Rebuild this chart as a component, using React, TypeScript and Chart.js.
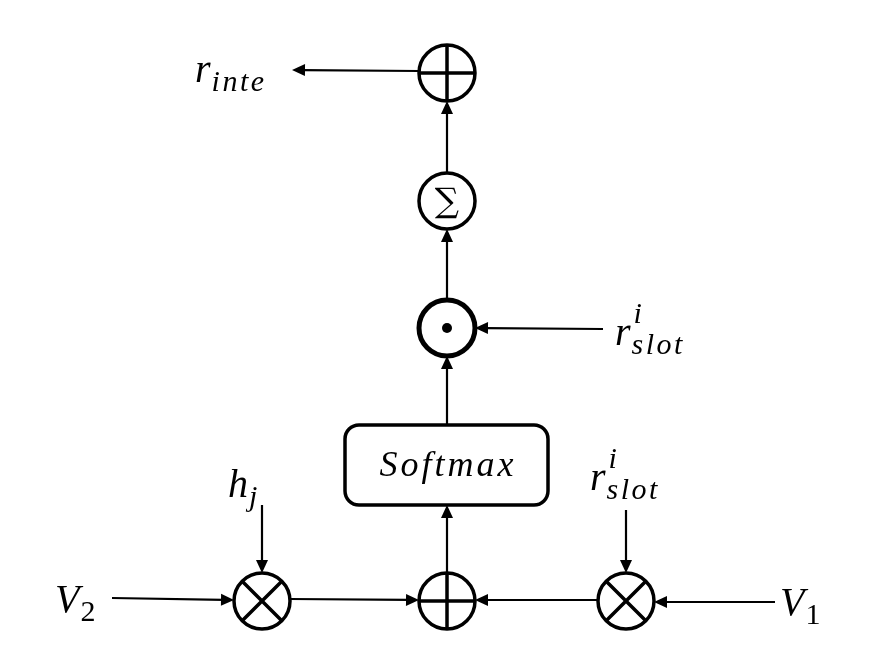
import React, { useEffect, useRef } from "react";
import { Chart, registerables } from "chart.js";
Chart.register(...registerables);

// Diagram nodes (in a 882 x 668 coordinate space)
const nodeKinds = ["oplus", "sum", "odot", "oplus", "otimes", "otimes"];
const nodeX = [447, 447, 447, 447, 262, 626];
const nodeY = [73, 201, 328, 601, 601, 601];
const nodeR = 28;

// Softmax box
const boxX = [345, 548];
const boxY = [425, 505];
const boxLabel = "Softmax";

// Arrows: from -> to
const arrowX1 = [419, 447, 447, 447, 447, 603, 262, 626, 112, 290, 598, 775];
const arrowY1 = [71, 173, 300, 425, 573, 329, 505, 510, 598, 599, 600, 602];
const arrowX2 = [292, 447, 447, 447, 447, 475, 262, 626, 234, 419, 475, 654];
const arrowY2 = [70, 101, 229, 356, 505, 328, 573, 573, 600, 600, 600, 602];

// Labels: base, subscript, superscript
const labelX = [195, 615, 228, 590, 55, 780];
const labelY = [82, 345, 497, 490, 612, 615];
const labelBase = ["r", "r", "h", "r", "V", "V"];
const labelSub = ["inte", "slot", "j", "slot", "2", "1"];
const labelSup = ["", "i", "", "i", "", ""];

export default function App() {
  const ref = useRef<HTMLCanvasElement>(null);
  useEffect(() => {
    if (!ref.current) return;
    const plugin = {
      id: "diagram",
      afterDraw(chart: any) {
        const ctx = chart.ctx;
        const sx = chart.scales.x, sy = chart.scales.y;
        const px = (v: number) => sx.getPixelForValue(v);
        const py = (v: number) => sy.getPixelForValue(v);
        ctx.save();
        ctx.strokeStyle = "#000";
        ctx.fillStyle = "#000";
        ctx.lineCap = "butt";
        // arrows
        for (let i = 0; i < arrowX1.length; i++) {
          const x1 = px(arrowX1[i]), y1 = py(arrowY1[i]), x2 = px(arrowX2[i]), y2 = py(arrowY2[i]);
          const a = Math.atan2(y2 - y1, x2 - x1);
          const L = 13, W = 6;
          ctx.lineWidth = 2.2;
          ctx.beginPath();
          ctx.moveTo(x1, y1);
          ctx.lineTo(x2 - Math.cos(a) * L * 0.8, y2 - Math.sin(a) * L * 0.8);
          ctx.stroke();
          ctx.beginPath();
          ctx.moveTo(x2, y2);
          ctx.lineTo(x2 - Math.cos(a) * L - Math.sin(a) * W, y2 - Math.sin(a) * L + Math.cos(a) * W);
          ctx.lineTo(x2 - Math.cos(a) * L + Math.sin(a) * W, y2 - Math.sin(a) * L - Math.cos(a) * W);
          ctx.closePath();
          ctx.fill();
        }
        // nodes
        for (let i = 0; i < nodeKinds.length; i++) {
          const cx = px(nodeX[i]), cy = py(nodeY[i]);
          const k = nodeKinds[i];
          const r = nodeR;
          ctx.fillStyle = "#fff";
          ctx.lineWidth = k === "odot" ? 5 : 3.5;
          ctx.beginPath();
          ctx.arc(cx, cy, r, 0, Math.PI * 2);
          ctx.fill();
          ctx.stroke();
          ctx.fillStyle = "#000";
          ctx.lineWidth = 3.5;
          if (k === "oplus") {
            ctx.beginPath();
            ctx.moveTo(cx - r, cy); ctx.lineTo(cx + r, cy);
            ctx.moveTo(cx, cy - r); ctx.lineTo(cx, cy + r);
            ctx.stroke();
          } else if (k === "otimes") {
            const d = r * Math.SQRT1_2;
            ctx.beginPath();
            ctx.moveTo(cx - d, cy - d); ctx.lineTo(cx + d, cy + d);
            ctx.moveTo(cx + d, cy - d); ctx.lineTo(cx - d, cy + d);
            ctx.stroke();
          } else if (k === "odot") {
            ctx.beginPath();
            ctx.arc(cx, cy, 5, 0, Math.PI * 2);
            ctx.fill();
          } else if (k === "sum") {
            ctx.font = "34px 'DejaVu Serif'";
            ctx.textAlign = "center";
            ctx.textBaseline = "middle";
            ctx.fillText("\u2211", cx, cy + 2);
          }
        }
        // box
        const bx1 = px(boxX[0]), bx2 = px(boxX[1]), by1 = py(boxY[0]), by2 = py(boxY[1]);
        ctx.lineWidth = 3.5;
        ctx.beginPath();
        ctx.roundRect(bx1, by1, bx2 - bx1, by2 - by1, 14);
        ctx.stroke();
        ctx.font = "italic 36px 'Liberation Serif'";
        ctx.textAlign = "center";
        ctx.textBaseline = "middle";
        ctx.fillText(boxLabel.split("").join("\u200A"), (bx1 + bx2) / 2, (by1 + by2) / 2 + 2);
        // labels
        ctx.textAlign = "left";
        ctx.textBaseline = "alphabetic";
        for (let i = 0; i < labelBase.length; i++) {
          const x = px(labelX[i]), y = py(labelY[i]);
          const italicBase = labelBase[i] !== "V" ? "italic " : "italic ";
          ctx.font = italicBase + "40px 'Liberation Serif'";
          ctx.fillText(labelBase[i], x, y);
          const w = ctx.measureText(labelBase[i]).width;
          const subIsNum = /^\d$/.test(labelSub[i]);
          ctx.font = (subIsNum ? "" : "italic ") + "30px 'Liberation Serif'";
          ctx.fillText(labelSub[i].split("").join("\u200A"), x + w + 1, y + 9);
          if (labelSup[i]) {
            ctx.fillText(labelSup[i], x + w + 3, y - 22);
          }
        }
        ctx.restore();
      },
    };
    const chart = new Chart(ref.current, {
      type: "scatter",
      data: {
        datasets: [
          {
            data: nodeX.map((x, i) => ({ x, y: nodeY[i] })),
            pointRadius: 0,
          },
        ],
      },
      options: {
        animation: false,
        responsive: false,
        layout: { padding: 0 },
        plugins: { legend: { display: false }, tooltip: { enabled: false } },
        scales: {
          x: { type: "linear", min: 0, max: 882, display: false },
          y: { type: "linear", min: 0, max: 668, reverse: true, display: false },
        },
      },
      plugins: [plugin],
    });
    return () => chart.destroy();
  }, []);
  return (
    <div style={{ position: "absolute", left: 0, top: 0, width: 882, height: 668, background: "#fff" }}>
      <canvas ref={ref} width={882} height={668} style={{ width: 882, height: 668 }} />
    </div>
  );
}
